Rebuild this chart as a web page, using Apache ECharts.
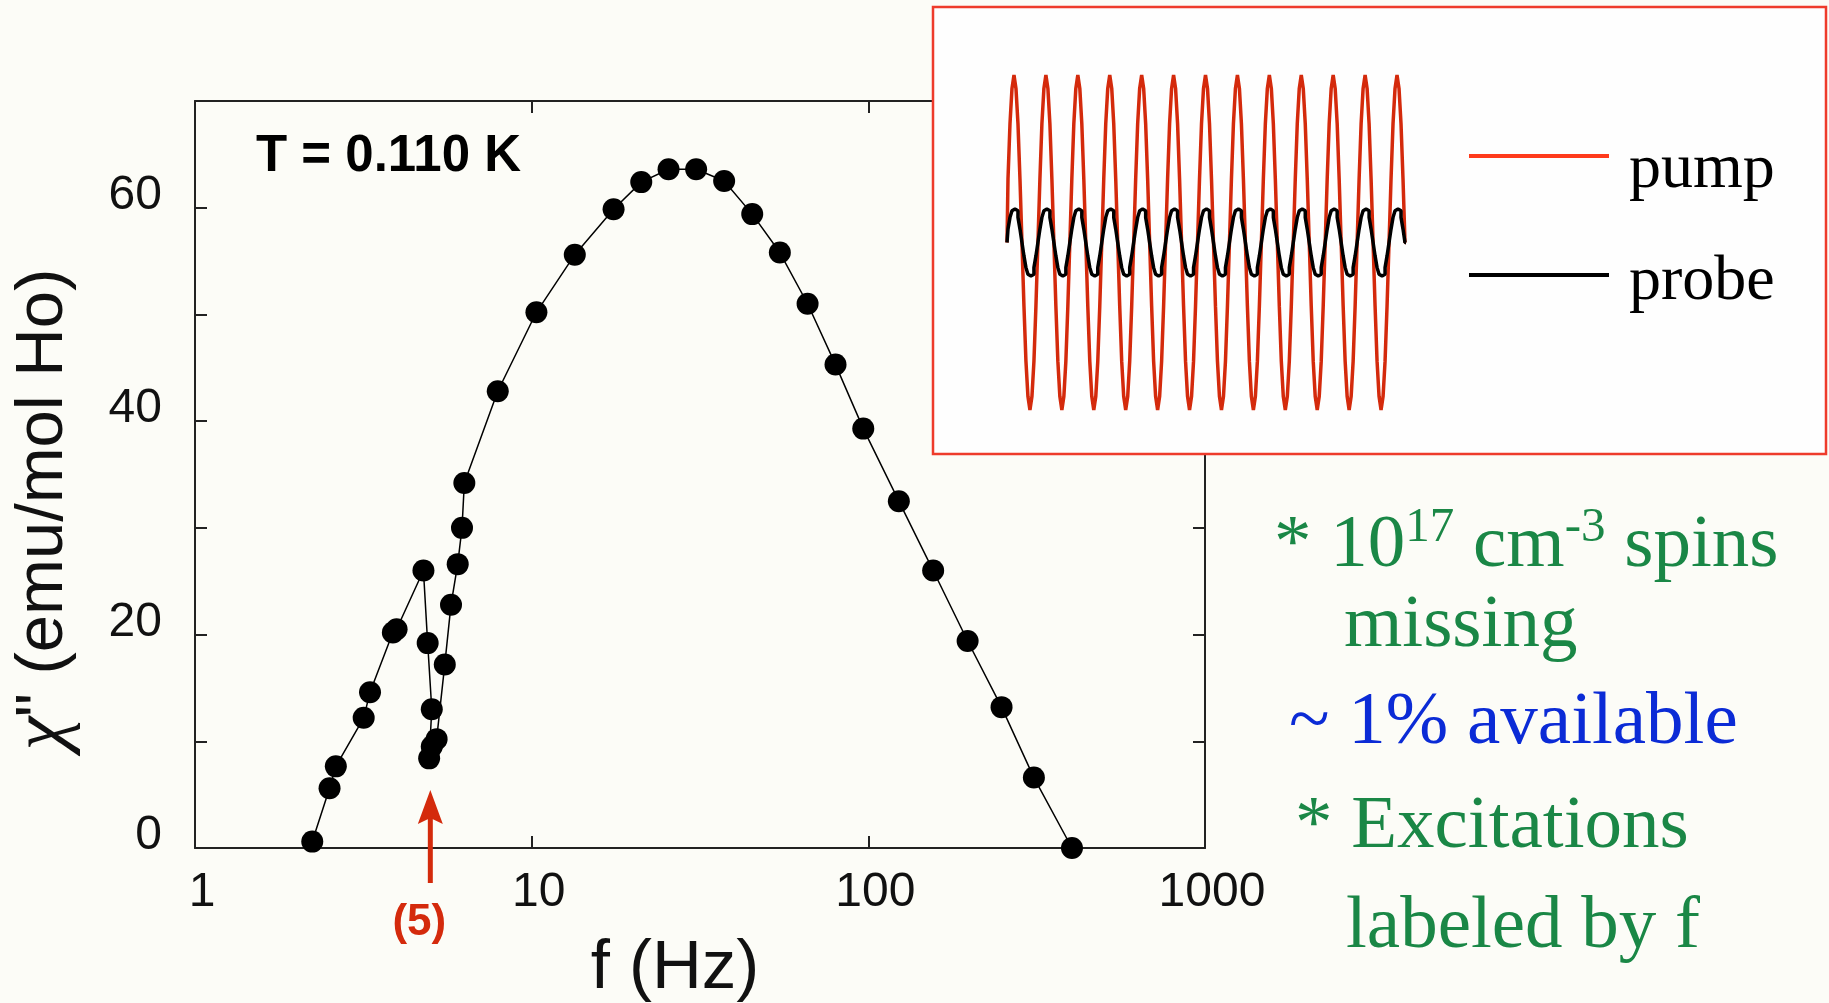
<!DOCTYPE html>
<html>
<head>
<meta charset="utf-8">
<script src="https://cdn.jsdelivr.net/npm/echarts@6/dist/echarts.min.js"></script>
<style>
html, body { margin: 0; padding: 0; background: #fcfcf7; }
#chart { width: 1829px; height: 1003px; }
</style>
</head>
<body>
<div id="chart"></div>
<script>
// chi'' vs frequency, T = 0.110 K (in measured order, the dip near 5 Hz is the hole)
var freq = [2.23, 2.51, 2.62, 3.17, 3.31, 3.87, 3.97, 4.77, 4.91, 5.05, 4.96, 5.05, 5.22, 5.52, 5.76, 6.03, 6.21, 6.31,
	7.93, 10.33, 13.43, 17.51, 21.16, 25.5, 30.8, 37.3, 45.2, 54.6, 66.0, 79.9, 96.6, 123.2, 155.8, 197.2, 248.7, 310.3, 402.6];
var chi = [0.6, 5.6, 7.65, 12.2, 14.6, 20.2, 20.5, 26.0, 19.2, 13.0, 8.4, 9.5, 10.2, 17.2, 22.8, 26.6, 30.0, 34.2,
	42.8, 50.2, 55.6, 59.85, 62.4, 63.6, 63.6, 62.5, 59.4, 55.8, 51.0, 45.3, 39.3, 32.5, 26.0, 19.4, 13.2, 6.6, 0];
var yLabels = [0, 20, 40, 60];
var markFreq = 5;

var pumpCycle = [0, 0.38, 0.71, 0.92, 1, 0.92, 0.71, 0.38, 0, -0.38, -0.71, -0.92, -1, -0.92, -0.71, -0.38];
var probeCycle = [0, 0.08, 0.15, 0.19, 0.2, 0.19, 0.15, 0.08, 0, -0.08, -0.15, -0.19, -0.2, -0.19, -0.15, -0.08];
var cycles = 12.5;

function tile(cycle) {
	var out = [];
	var n = cycle.length;
	for (var i = 0; i <= cycles * n; i++) {
		out.push([i / n, cycle[i % n]]);
	}
	return out;
}

var points = [];
for (var i = 0; i < freq.length; i++) {
	points.push([freq[i], chi[i]]);
}

var axisColor = '#222';
var red = '#d42a0c';
var green = '#1a8746';
var noteFont = '75px "Liberation Serif"';
var legendFont = { fontFamily: 'Liberation Serif', fontSize: 64, lineHeight: 64, color: '#000' };

var myChart = echarts.init(document.getElementById('chart'));

var option = {
	backgroundColor: '#fcfcf7',
	animation: false,
	grid: [
		{ left: 195, top: 101, right: 624, bottom: 155, outerBoundsMode: 'none' },
		{ left: 1007, top: 75, width: 399, height: 335, outerBoundsMode: 'none' }
	],
	xAxis: [
		{
			type: 'log', logBase: 10, min: 1, max: 1000, gridIndex: 0, position: 'bottom',
			axisLine: { onZero: false, lineStyle: { color: axisColor, width: 2 } },
			axisTick: { inside: true, length: 12, lineStyle: { color: axisColor, width: 2 } },
			minorTick: { show: false },
			splitLine: { show: false },
			axisLabel: {
				fontFamily: 'Liberation Sans', fontSize: 48, color: '#111', margin: 21, padding: [0, 0, 0, 14],
				formatter: function (v) { return String(Math.round(v)); }
			},
			name: 'f (Hz)', nameLocation: 'middle', nameGap: 86, nameMoveOverlap: false,
			nameTextStyle: { fontFamily: 'Liberation Sans', fontSize: 69, color: '#111', padding: [0, 50, 0, 0] }
		},
		{
			type: 'log', logBase: 10, min: 1, max: 1000, gridIndex: 0, position: 'top',
			axisLine: { onZero: false, lineStyle: { color: axisColor, width: 2 } },
			axisTick: { inside: true, length: 12, lineStyle: { color: axisColor, width: 2 } },
			axisLabel: { show: false },
			splitLine: { show: false }
		},
		{ type: 'value', gridIndex: 1, min: 0, max: cycles, show: false }
	],
	yAxis: [
		{
			type: 'value', min: 0, max: 70, interval: 10, gridIndex: 0, position: 'left',
			axisLine: { show: true, onZero: false, lineStyle: { color: axisColor, width: 2 } },
			axisTick: { show: true, inside: true, length: 12, lineStyle: { color: axisColor, width: 2 } },
			splitLine: { show: false },
			axisLabel: {
				fontFamily: 'Liberation Sans', fontSize: 48, color: '#111', margin: 33,
				verticalAlign: 'bottom', lineHeight: 24,
				formatter: function (v) { return yLabels.indexOf(v) >= 0 ? String(v) : ''; }
			},
			name: '{c|χ}" (emu/mol Ho)', nameLocation: 'middle', nameGap: 113, nameMoveOverlap: false,
			nameTextStyle: {
				fontFamily: 'Liberation Sans', fontSize: 67, color: '#111', padding: [0, 70, 0, 0],
				rich: { c: { fontFamily: 'Liberation Serif', fontStyle: 'italic', fontSize: 76, color: '#111' } }
			}
		},
		{
			type: 'value', min: 0, max: 70, interval: 10, gridIndex: 0, position: 'right',
			axisLine: { show: true, onZero: false, lineStyle: { color: axisColor, width: 2 } },
			axisTick: { show: true, inside: true, length: 12, lineStyle: { color: axisColor, width: 2 } },
			axisLabel: { show: false },
			splitLine: { show: false }
		},
		{ type: 'value', gridIndex: 1, min: -1, max: 1, show: false }
	],
	legend: {
		data: [{ name: 'pump', itemStyle: { color: '#ff3a1c' } }, { name: 'probe' }],
		orient: 'vertical', left: 1469, top: 110, z: 20,
		icon: 'rect', itemWidth: 140, itemHeight: 4, itemGap: 34,
		padding: 0, selectedMode: false,
		formatter: function (name) { return '{' + name + '|' + name + '}'; },
		textStyle: {
			fontFamily: 'Liberation Serif', fontSize: 64, color: '#000',
			rich: {
				pump: Object.assign({ padding: [28, 0, 0, 15] }, legendFont),
				probe: Object.assign({ padding: [14, 0, 0, 15] }, legendFont)
			}
		}
	},
	series: [
		{
			name: 'chi', type: 'line', xAxisIndex: 0, yAxisIndex: 0, data: points,
			symbol: 'circle', symbolSize: 22, clip: false, z: 3,
			itemStyle: { color: '#000' },
			lineStyle: { color: '#000', width: 1.5 }
		},
		{
			name: 'pump', type: 'line', xAxisIndex: 2, yAxisIndex: 2, data: tile(pumpCycle),
			step: 'middle', showSymbol: false, clip: false, z: 10,
			itemStyle: { color: red },
			lineStyle: { color: red, width: 3.5 }
		},
		{
			name: 'probe', type: 'line', xAxisIndex: 2, yAxisIndex: 2, data: tile(probeCycle),
			step: 'middle', showSymbol: false, clip: false, z: 11,
			itemStyle: { color: '#000' },
			lineStyle: { color: '#000', width: 3.5 }
		}
	],
	graphic: [
		{
			id: 'insetBox', type: 'rect', z: 5,
			shape: { x: 933, y: 7, width: 893, height: 447 },
			style: { fill: '#fefefe', stroke: '#ee3b2b', lineWidth: 2.5 }
		},
		{
			id: 'temp', type: 'text', x: 256, y: 157, z: 6,
			style: { text: 'T = 0.110 K', font: 'bold 51px "Liberation Sans"', fill: '#000', textVerticalAlign: 'middle', verticalAlign: 'middle' }
		},
		{
			id: 'note1', type: 'text', x: 1274, y: 544, z: 6,
			style: {
				text: '{a|* 10}{s|17}{a| cm}{s|-3}{a| spins}',
				textVerticalAlign: 'middle', verticalAlign: 'middle',
				rich: {
					a: { fontFamily: 'Liberation Serif', fontSize: 75, lineHeight: 80, fill: green, verticalAlign: 'bottom' },
					s: { fontFamily: 'Liberation Serif', fontSize: 49, lineHeight: 48, fill: green, verticalAlign: 'bottom', padding: [0, 0, 31, 0] }
				}
			}
		},
		{
			id: 'note2', type: 'text', x: 1344, y: 626, z: 6,
			style: { text: 'missing', font: noteFont, fill: green, textVerticalAlign: 'middle', verticalAlign: 'middle' }
		},
		{
			id: 'note3', type: 'text', x: 1289, y: 723, z: 6,
			style: { text: '~ 1% available', font: noteFont, fill: '#0b2bd6', textVerticalAlign: 'middle', verticalAlign: 'middle' }
		},
		{
			id: 'note4', type: 'text', x: 1295, y: 827, z: 6,
			style: { text: '* Excitations', font: noteFont, fill: green, textVerticalAlign: 'middle', verticalAlign: 'middle' }
		},
		{
			id: 'note5', type: 'text', x: 1346, y: 927, z: 6,
			style: { text: 'labeled by f', font: noteFont, fill: green, textVerticalAlign: 'middle', verticalAlign: 'middle' }
		}
	]
};
myChart.setOption(option);

// red arrow marking the 5 Hz hole, placed through the axes
var ax = myChart.convertToPixel({ xAxisIndex: 0 }, markFreq);
var y0 = myChart.convertToPixel({ yAxisIndex: 0 }, 0);
myChart.setOption({
	graphic: [
		{
			id: 'arrowShaft', type: 'line', z: 6,
			shape: { x1: ax, y1: y0 - 30, x2: ax, y2: y0 + 35 },
			style: { stroke: red, lineWidth: 5 }
		},
		{
			id: 'arrowHead', type: 'polygon', z: 6,
			shape: { points: [[ax, y0 - 58], [ax + 12.5, y0 - 24], [ax, y0 - 30], [ax - 12.5, y0 - 24]] },
			style: { fill: red }
		},
		{
			id: 'arrowLabel', type: 'text', x: ax - 11, y: y0 + 75, z: 6,
			style: { text: '(5)', font: 'bold 44px "Liberation Sans"', fill: red, textAlign: 'center', align: 'center', textVerticalAlign: 'middle', verticalAlign: 'middle' }
		}
	]
});
</script>
</body>
</html>
